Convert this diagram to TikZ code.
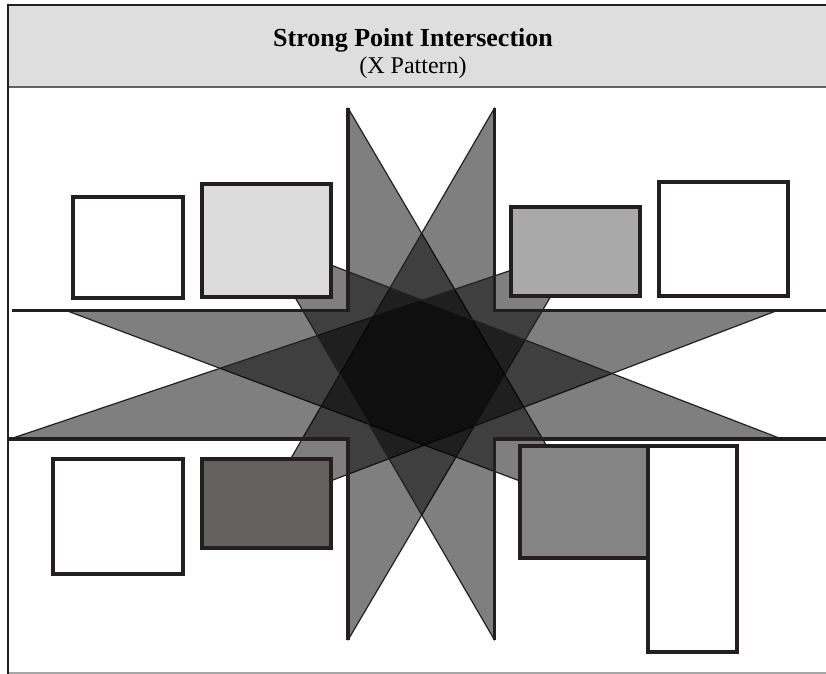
\documentclass[tikz,border=0pt]{standalone}
\usepackage{fontspec}
\setmainfont{Liberation Serif}
\usetikzlibrary{positioning}

\definecolor{ink}{HTML}{231F20}
\definecolor{bandgray}{HTML}{DEDEDE}
\definecolor{lightbldg}{HTML}{DCDCDC}
\definecolor{midbldg}{HTML}{A9A9A9}
\definecolor{darkbldg}{HTML}{65615E}
\definecolor{greybldg}{HTML}{848484}

\begin{document}
\begin{tikzpicture}[x=0.75pt, y=-0.75pt,
    curb/.style={draw=ink, line width=2.4pt},
    sight/.style={fill=black, fill opacity=0.5, draw=ink, line width=0.9pt, line join=round},
    bldg/.style={draw=ink, line width=2.3pt},
    ttl/.style={font=\fontsize{19.5}{22}\selectfont\bfseries, inner sep=0pt},
    sub/.style={font=\fontsize{18}{20}\selectfont, inner sep=0pt}
]
\useasboundingbox (0,0) rectangle (826,674);

% header band and frame
\fill[bandgray] (8,5) rectangle (826,87);
\draw[ink!70, line width=1.6pt] (8,87) -- (826,87);
\draw[black!35, line width=0.8pt] (8,673) -- (826,673);
\draw[ink, line width=2.2pt] (826,5) -- (8,5) -- (8,674);
\node[ttl] (title) at (413,40) {Strong Point Intersection};
\node[sub] (subtitle) at (413,68) {(X Pattern)};

% road corners and tips
\coordinate (cTL) at (348,310.7);
\coordinate (cTR) at (494.5,310.7);
\coordinate (cBL) at (348,439);
\coordinate (cBR) at (494.5,439);
\coordinate (tipTL) at (348,108);
\coordinate (tipTR) at (494.5,108);
\coordinate (tipBL) at (348,640);
\coordinate (tipBR) at (494.5,640);
\coordinate (tipLu) at (66.7,310.7);
\coordinate (tipLd) at (10,439);
\coordinate (tipRu) at (776.7,310.7);
\coordinate (tipRd) at (781.7,439);
% far corners, under the buildings
\coordinate (farTL) at (260.4,237.8);
\coordinate (farTR) at (579.8,247.2);
\coordinate (farBL) at (262.8,506.8);
\coordinate (farBR) at (580.7,503.8);

% sight areas
\draw[sight] (farBR) -- (tipLu) -- (cTL) -- (tipTL) -- cycle;
\draw[sight] (farBL) -- (tipRu) -- (cTR) -- (tipTR) -- cycle;
\draw[sight] (farTR) -- (tipLd) -- (cBL) -- (tipBL) -- cycle;
\draw[sight] (farTL) -- (tipRd) -- (cBR) -- (tipBR) -- cycle;

% curbs
\draw[curb] (12,310.7) -- (cTL) -- (tipTL);
\draw[curb] (tipTR) -- (cTR) -- (826,310.7);
\draw[curb] (7,439) -- (cBL) -- (tipBL);
\draw[curb] (tipBR) -- (cBR) -- (826,439);

% buildings
\draw[bldg, fill=white] (73,197) rectangle (183,298);
\draw[bldg, fill=lightbldg] (202,184) rectangle (331,297);
\draw[bldg, fill=midbldg] (511,207) rectangle (640,296);
\draw[bldg, fill=white] (659,182) rectangle (788,296);
\draw[bldg, fill=white] (53,459) rectangle (183,574);
\draw[bldg, fill=darkbldg] (202,459) rectangle (331,548);
\draw[bldg, fill=greybldg] (520,446) rectangle (648,558);
\draw[bldg, fill=white] (648,446) rectangle (737,652);
\end{tikzpicture}
\end{document}
